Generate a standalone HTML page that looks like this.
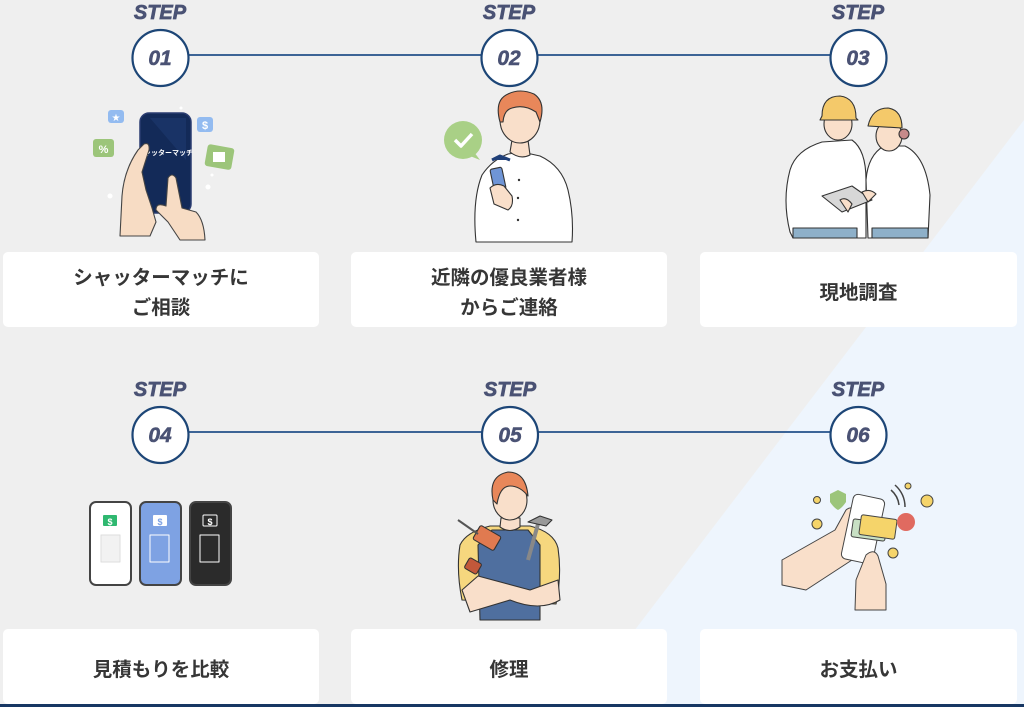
<!DOCTYPE html>
<html><head><meta charset="utf-8">
<style>
html,body{margin:0;padding:0;}
body{width:1024px;height:707px;overflow:hidden;background:#efefef;position:relative;font-family:"Liberation Sans","Noto Sans CJK JP",sans-serif;}
svg.bg{position:absolute;left:0;top:0;}
.box{position:absolute;box-sizing:border-box;padding-top:6px;background:#fff;border-radius:5px;display:flex;align-items:center;justify-content:center;text-align:center;color:#363636;font-weight:700;font-size:19.5px;line-height:30px;font-family:"Liberation Sans","Noto Sans CJK JP",sans-serif;}
.step{position:absolute;width:80px;text-align:center;font-family:"Liberation Sans",sans-serif;font-weight:700;font-style:italic;font-size:20px;color:#4a5274;line-height:20px;-webkit-text-stroke:0.7px #4a5274;}
.num{position:absolute;width:60px;text-align:center;font-family:"Liberation Sans",sans-serif;font-weight:700;font-style:italic;font-size:21px;color:#4a5274;line-height:22px;-webkit-text-stroke:0.5px #4a5274;}
</style></head>
<body>
<svg class="bg" width="1024" height="707" viewBox="0 0 1024 707" xmlns="http://www.w3.org/2000/svg">
  <polygon points="1024,120 1024,707 576,707" fill="#eef5fd"/>
  <rect x="0" y="704" width="1024" height="3" fill="#173763"/>
  <line x1="160" y1="55" x2="858" y2="55" stroke="#23508a" stroke-width="1.8"/>
  <line x1="160" y1="432" x2="858" y2="432" stroke="#23508a" stroke-width="1.8"/>
  <g fill="#fff" stroke="#1d4677" stroke-width="2.2">
    <circle cx="160.5" cy="58" r="28"/>
    <circle cx="509.5" cy="58" r="28"/>
    <circle cx="858.5" cy="58" r="28"/>
    <circle cx="160.5" cy="435" r="28"/>
    <circle cx="510" cy="435" r="28"/>
    <circle cx="858.5" cy="435" r="28"/>
  </g>

  <!-- ===== Illustration 1 ===== -->
  <g stroke-linejoin="round">
    <rect x="108" y="110" width="16" height="13" rx="3" fill="#93bbf0"/>
    <text x="116" y="121" font-size="10" fill="#fff" text-anchor="middle" font-family="DejaVu Sans">★</text>
    <rect x="93" y="139" width="21" height="18" rx="3" fill="#9cc57a"/>
    <text x="103.5" y="153" font-size="11" fill="#fff" text-anchor="middle" font-family="Liberation Sans" font-weight="700">%</text>
    <rect x="197" y="117" width="16" height="15" rx="3" fill="#93bbf0"/>
    <text x="205" y="129" font-size="11" fill="#fff" text-anchor="middle" font-family="Liberation Sans" font-weight="700">$</text>
    <rect x="206" y="146" width="27" height="22" rx="3" fill="#9cc57a" transform="rotate(10 219 157)"/>
    <rect x="213" y="152" width="12" height="10" fill="#fff"/>
    <rect x="140" y="113" width="51" height="100" rx="9" fill="#132a58" stroke="#2a3c70" stroke-width="1.5"/>
    <path d="M150 118 L186 118 L186 160 Z" fill="#1e3a70" opacity="0.6"/>
    <text x="165" y="155" font-size="7" fill="#fff" text-anchor="middle" font-family="Liberation Sans,Noto Sans CJK JP,sans-serif" font-weight="700">シャッターマッチ</text>
    <path d="M120 236 L122 196 Q124 170 138 150 L144 144 Q150 142 149 150 L142 172 L146 190 L152 208 L156 222 L150 236 Z" fill="#f7dcc4" stroke="#444" stroke-width="1.1"/>
    <path d="M168 178 Q172 172 176 178 L182 208 L196 212 Q204 220 205 240 L180 240 L168 222 L156 210 Q156 202 166 206 Z" fill="#f7dcc4" stroke="#444" stroke-width="1.1"/>
    <g fill="#fff"><circle cx="110" cy="196" r="2.5"/><circle cx="208" cy="187" r="2.5"/><circle cx="212" cy="175" r="1.5"/><circle cx="181" cy="108" r="1.5"/></g>
  </g>

  <!-- ===== Illustration 2 ===== -->
  <g stroke="#333" stroke-width="1.1" stroke-linejoin="round">
    <circle cx="463" cy="140" r="19" fill="#a9d086" stroke="none"/>
    <path d="M474 152 L480 160 L470 156 Z" fill="#a9d086" stroke="none"/>
    <path d="M455 140 L461 146 L472 134" fill="none" stroke="#fff" stroke-width="3.5"/>
    <path d="M476 242 Q472 200 482 175 Q492 160 508 154 L522 152 L540 156 Q562 166 568 190 Q574 215 572 242 Z" fill="#fff"/>
    <path d="M510 152 L512 140 L528 140 L530 155 Q520 160 510 152 Z" fill="#f9dfca"/>
    <ellipse cx="520" cy="120" rx="20" ry="23" fill="#f9dfca"/>
    <path d="M500 122 Q494 100 508 94 Q520 88 534 94 Q546 102 540 122 L536 112 Q524 104 512 108 Q504 110 503 122 Z" fill="#e8875a"/>
    <path d="M492 160 L500 156 L510 160" fill="#1f3f78" stroke-width="3" stroke="#1f3f78"/>
    <rect x="492" y="168" width="12" height="22" rx="2" fill="#6f95d6" transform="rotate(-12 498 179)"/>
    <path d="M490 188 Q496 182 504 186 L512 196 Q514 206 508 210 L494 204 Z" fill="#f9dfca"/>
    <g fill="#333" stroke="none"><circle cx="519" cy="180" r="1.2"/><circle cx="518" cy="198" r="1.2"/><circle cx="518" cy="220" r="1.2"/></g>
  </g>

  <!-- ===== Illustration 3 ===== -->
  <g stroke="#333" stroke-width="1.1" stroke-linejoin="round">
    <path d="M793 238 L790 232 Q782 200 790 170 Q796 150 822 142 L852 140 Q866 150 866 180 L866 238 Z" fill="#fff"/>
    <path d="M868 238 L866 180 Q868 155 884 146 L905 146 Q926 156 930 195 L928 238 Z" fill="#fff"/>
    <rect x="793" y="228" width="64" height="10" fill="#8eb0c9"/>
    <rect x="872" y="228" width="56" height="10" fill="#8eb0c9"/>
    <ellipse cx="838" cy="124" rx="14" ry="16" fill="#f9dfca"/>
    <path d="M822 116 Q822 96 840 96 Q856 98 856 118 L858 120 L820 120 Z" fill="#f4c96a"/>
    <ellipse cx="889" cy="136" rx="13" ry="15" fill="#f9dfca"/>
    <circle cx="904" cy="134" r="5" fill="#c78a8a"/>
    <path d="M868 126 Q872 108 888 108 Q902 110 902 128 Z" fill="#f4c96a"/>
    <polygon points="822,196 852,186 872,200 842,212" fill="#d7d7d7"/>
    <path d="M840 200 Q846 196 852 204 L848 212 Z" fill="#f9dfca"/>
    <path d="M862 192 Q870 188 876 194 L868 202 Z" fill="#f9dfca"/>
  </g>

  <!-- ===== Illustration 4 ===== -->
  <g stroke-linejoin="round">
    <rect x="90" y="502" width="41" height="83" rx="6" fill="#fff" stroke="#444" stroke-width="2"/>
    <rect x="103" y="515" width="14" height="11" rx="1" fill="#2fb870"/>
    <text x="110" y="525" font-size="9" fill="#fff" text-anchor="middle" font-family="Liberation Sans" font-weight="700">$</text>
    <rect x="101" y="535" width="19" height="27" fill="#f2f2f2" stroke="#ddd"/>
    <rect x="140" y="502" width="41" height="83" rx="6" fill="#7ea2e3" stroke="#444" stroke-width="2"/>
    <rect x="153" y="515" width="14" height="11" rx="1" fill="#fff"/>
    <text x="160" y="525" font-size="9" fill="#7ea2e3" text-anchor="middle" font-family="Liberation Sans" font-weight="700">$</text>
    <rect x="150" y="535" width="19" height="27" fill="none" stroke="#fff"/>
    <rect x="190" y="502" width="41" height="83" rx="6" fill="#2b2b2b" stroke="#444" stroke-width="2"/>
    <rect x="203" y="515" width="14" height="11" rx="1" fill="none" stroke="#fff"/>
    <text x="210" y="525" font-size="9" fill="#fff" text-anchor="middle" font-family="Liberation Sans" font-weight="700">$</text>
    <rect x="200" y="535" width="19" height="27" fill="none" stroke="#fff"/>
  </g>

  <!-- ===== Illustration 5 ===== -->
  <g stroke="#333" stroke-width="1.1" stroke-linejoin="round">
    <path d="M462 600 Q456 570 460 545 Q466 532 490 526 L530 526 Q554 532 558 548 Q562 575 556 604 Z" fill="#f6d77e"/>
    <path d="M478 545 L492 530 L528 530 L540 545 L540 620 L480 620 Z" fill="#4f6f9f"/>
    <path d="M500 527 L501 518 L520 518 L520 527 Q510 534 500 527 Z" fill="#f9dfca"/>
    <ellipse cx="510" cy="500" rx="17" ry="20" fill="#f9dfca"/>
    <path d="M493 500 Q488 476 508 472 Q526 472 528 496 Q520 486 510 486 Q500 486 497 504 Z" fill="#e8875a"/>
    <path d="M462 590 L478 576 L530 590 L558 580 L560 600 Q540 612 510 600 L470 612 Z" fill="#f9dfca"/>
    <rect x="475" y="530" width="24" height="16" rx="2" fill="#e07a50" transform="rotate(30 487 538)"/>
    <rect x="466" y="560" width="14" height="12" rx="2" fill="#c2583a" transform="rotate(30 473 566)"/>
    <line x1="458" y1="520" x2="478" y2="534" stroke="#555" stroke-width="2"/>
    <line x1="528" y1="560" x2="538" y2="524" stroke="#888" stroke-width="4"/>
    <path d="M528 522 L546 526 L552 520 L540 516 Z" fill="#999"/>
  </g>

  <!-- ===== Illustration 6 ===== -->
  <g stroke="#444" stroke-width="1" stroke-linejoin="round">
    <path d="M782 585 L782 560 L835 530 L846 510 Q852 505 856 512 L858 540 L852 560 L806 590 Z" fill="#f9dfca"/>
    <rect x="847" y="496" width="32" height="66" rx="5" fill="#fff" transform="rotate(12 863 529)"/>
    <rect x="852" y="521" width="34" height="18" rx="2" fill="#c8e0c4" transform="rotate(8 869 530)"/>
    <rect x="860" y="517" width="36" height="20" rx="2" fill="#f5d46a" transform="rotate(8 878 527)"/>
    <path d="M855 610 L856 580 L866 555 Q874 548 878 556 L886 584 L886 610 Z" fill="#f9dfca"/>
    <circle cx="906" cy="522" r="9" fill="#e06a60" stroke="none"/>
    <path d="M838 490 L846 494 L846 502 Q842 508 838 510 Q834 508 830 502 L830 494 Z" fill="#9cc57a" stroke="none"/>
    <g fill="#f5d46a"><circle cx="927" cy="501" r="6"/><circle cx="817" cy="524" r="5"/><circle cx="893" cy="553" r="5"/><circle cx="817" cy="500" r="3.5"/><circle cx="908" cy="486" r="3"/></g>
    <path d="M891 490 Q898 496 899 505 M895 485 Q905 494 905 507" fill="none" stroke="#444" stroke-width="1.5"/>
  </g>
</svg>

<div class="step" style="left:120px;top:3px;">STEP</div>
<div class="step" style="left:469px;top:3px;">STEP</div>
<div class="step" style="left:818px;top:3px;">STEP</div>
<div class="step" style="left:120px;top:380px;">STEP</div>
<div class="step" style="left:470px;top:380px;">STEP</div>
<div class="step" style="left:818px;top:380px;">STEP</div>

<div class="num" style="left:130px;top:48px;">01</div>
<div class="num" style="left:479px;top:48px;">02</div>
<div class="num" style="left:828px;top:48px;">03</div>
<div class="num" style="left:130px;top:425px;">04</div>
<div class="num" style="left:480px;top:425px;">05</div>
<div class="num" style="left:828px;top:425px;">06</div>

<div class="box" style="left:3px;top:252px;width:316px;height:75px;">シャッターマッチに<br>ご相談</div>
<div class="box" style="left:351px;top:252px;width:316px;height:75px;">近隣の優良業者様<br>からご連絡</div>
<div class="box" style="left:700px;top:252px;width:317px;height:75px;">現地調査</div>
<div class="box" style="left:3px;top:629px;width:316px;height:75px;">見積もりを比較</div>
<div class="box" style="left:351px;top:629px;width:316px;height:75px;">修理</div>
<div class="box" style="left:700px;top:629px;width:317px;height:75px;">お支払い</div>
</body></html>
